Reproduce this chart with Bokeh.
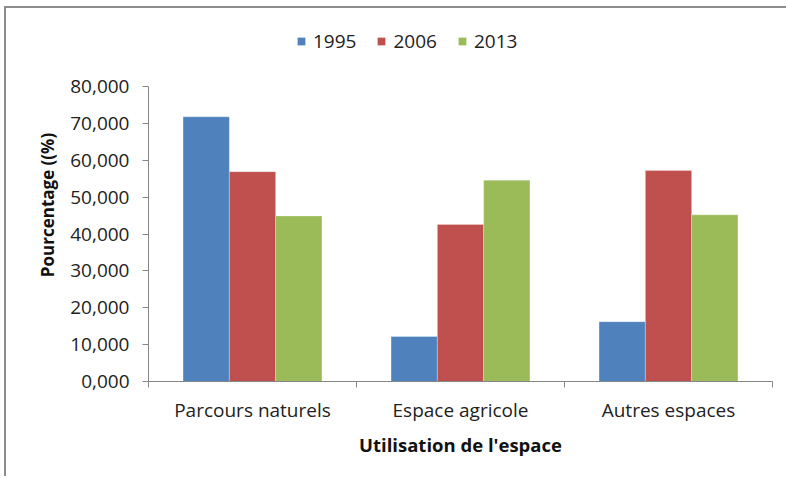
from bokeh.plotting import figure
from bokeh.models import (Range1d, LinearAxis, FixedTicker, Legend, LegendItem, ColumnDataSource)
from bokeh.transform import dodge
from bokeh.embed import file_html
from bokeh.resources import INLINE

categories = ["Parcours naturels", "Espace agricole", "Autres espaces"]
years = ["1995", "2006", "2013"]
v1995 = [71.8, 12.2, 16.2]
v2006 = [56.9, 42.6, 57.2]
v2013 = [44.9, 54.6, 45.2]
y_ticks = [0, 10, 20, 30, 40, 50, 60, 70, 80]
y_tick_labels = ["0,000", "10,000", "20,000", "30,000", "40,000", "50,000", "60,000", "70,000", "80,000"]
colors = ["#4F81BD", "#C0504D", "#9BBB59"]

FONT = "Open Sans"
AXIS_GRAY = "#868686"

ncat = len(categories)
centers = [i + 0.5 for i in range(ncat)]
edges = list(range(ncat + 1))
src = ColumnDataSource(dict(pos=centers, y1995=v1995, y2006=v2006, y2013=v2013))

W, H = 782, 470
TOP, BOTTOM = 20, 97
PLOT_H = 295  # pixel height of the 0..80 span
frame_h = H - TOP - BOTTOM
y_top = 80 * frame_h / PLOT_H   # room above the axis for the legend

p = figure(width=W, height=H, output_backend="svg", toolbar_location=None,
           x_range=Range1d(0, ncat), y_range=Range1d(0, y_top),
           x_axis_location=None, y_axis_location=None,
           min_border_left=142, min_border_right=16, min_border_top=TOP, min_border_bottom=BOTTOM)
p.outline_line_color = None
p.xgrid.visible = False
p.ygrid.visible = False
p.background_fill_color = "white"
p.border_fill_color = "white"
p.styles = {"border-left": "2px solid #8c8c8c", "border-top": "2px solid #8c8c8c",
            "margin-left": "4px", "margin-top": "6px"}

bw = 0.2226
renderers = []
for i, (yr, col) in enumerate(zip(years, colors)):
    r = p.vbar(x=dodge("pos", (i - 1) * bw), top="y" + yr, width=bw,
               source=src, fill_color=col, line_color="white", line_alpha=0.35, line_width=0.8)
    renderers.append(r)

# y axis
yaxis = LinearAxis(ticker=FixedTicker(ticks=y_ticks), bounds=(0, 80))
yaxis.major_label_overrides = {t: l for t, l in zip(y_ticks, y_tick_labels)}
yaxis.axis_line_color = AXIS_GRAY
yaxis.major_tick_line_color = AXIS_GRAY
yaxis.major_tick_out = 6
yaxis.major_tick_in = 0
yaxis.minor_tick_line_color = None
yaxis.major_label_standoff = 13
yaxis.major_label_text_font = FONT
yaxis.major_label_text_font_size = "19px"
yaxis.major_label_text_color = "#222222"
yaxis.axis_label = "Pourcentage ((%)"
yaxis.axis_label_text_font = FONT
yaxis.axis_label_text_font_style = "bold"
yaxis.axis_label_text_font_size = "17px"
yaxis.axis_label_text_color = "#111111"
yaxis.axis_label_standoff = 8
p.add_layout(yaxis, "left")

# x axis: labels at category centres, ticks at category boundaries
xaxis = LinearAxis(ticker=FixedTicker(ticks=centers, minor_ticks=edges))
xaxis.major_label_overrides = {c: name for c, name in zip(centers, categories)}
xaxis.axis_line_color = AXIS_GRAY
xaxis.major_tick_line_color = None
xaxis.minor_tick_line_color = AXIS_GRAY
xaxis.minor_tick_out = 6
xaxis.minor_tick_in = 0
xaxis.major_tick_out = 6
xaxis.major_tick_in = 0
xaxis.major_label_standoff = 9
xaxis.major_label_text_font = FONT
xaxis.major_label_text_font_size = "19px"
xaxis.major_label_text_color = "#222222"
xaxis.axis_label = "Utilisation de l'espace"
xaxis.axis_label_text_font = FONT
xaxis.axis_label_text_font_style = "bold"
xaxis.axis_label_text_font_size = "18.5px"
xaxis.axis_label_text_color = "#111111"
xaxis.axis_label_standoff = 6
p.add_layout(xaxis, "below")

legend = Legend(items=[LegendItem(label=yr, renderers=[r]) for yr, r in zip(years, renderers)],
                orientation="horizontal", location=(148, 327),
                padding=0, margin=0, spacing=20, border_line_color=None,
                background_fill_alpha=0, glyph_width=10, glyph_height=10, label_standoff=7,
                label_text_font=FONT, label_text_font_size="19px", label_text_color="#222222")
p.add_layout(legend, "center")

open("out.html", "w").write(file_html(p, INLINE))
